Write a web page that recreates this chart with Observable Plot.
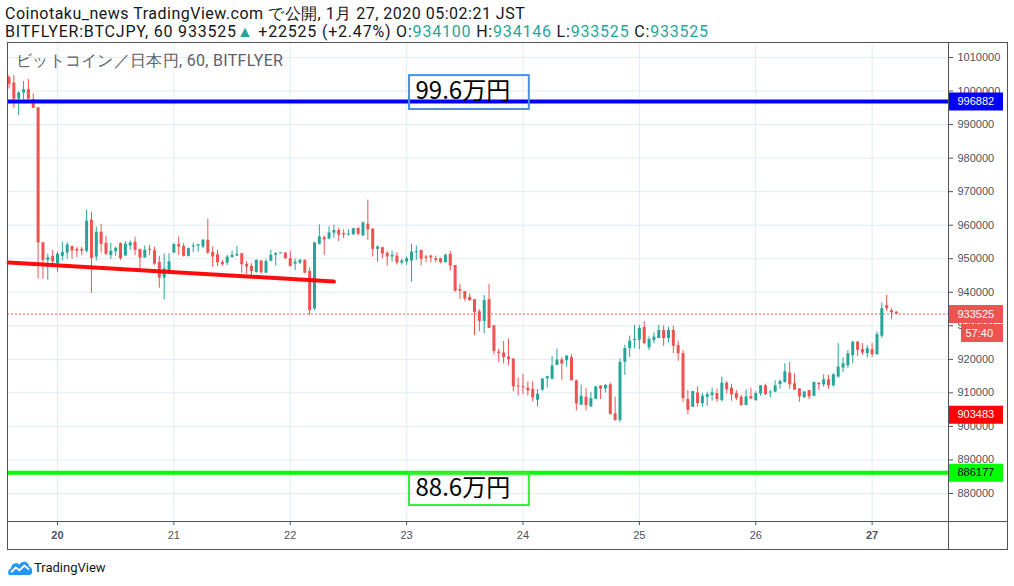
<!DOCTYPE html>
<html>
<head>
<meta charset="utf-8">
<script src="https://cdn.jsdelivr.net/npm/d3@7"></script>
<script src="https://cdn.jsdelivr.net/npm/@observablehq/plot@0.6"></script>
<style>
  html, body { margin: 0; padding: 0; background: #fff; }
  body { width: 1014px; height: 586px; overflow: hidden; position: relative; font-family: Roboto, "Liberation Sans", sans-serif; }
  .hdr { position: absolute; left: 5px; font-size: 16px; color: #131722; white-space: nowrap; line-height: 18px; }
  #h1 { letter-spacing: 0.5px; }
  #h2 { letter-spacing: 0.8px; }
  .up { color: #26a69a; }
  #legend { position: absolute; left: 16px; top: 52px; font-size: 16px; color: #5d606b; white-space: nowrap; line-height: 18px; letter-spacing: 0.3px; }
  #chart { position: absolute; left: 0; top: 42px; }
  .fr { position: absolute; background: #50535e; }
  #logo { position: absolute; left: 8px; top: 558px; height: 18px; display: flex; align-items: center; font-family: Roboto, "Liberation Sans", sans-serif; font-size: 13px; color: #131722; }
</style>
</head>
<body>
<div class="hdr" id="h1" style="top:5px"></div>
<div class="hdr" id="h2" style="top:23px"></div>
<div id="chart"></div>
<div class="fr" style="left:7px;top:42px;width:1001px;height:1px"></div>
<div class="fr" style="left:7px;top:549px;width:1001px;height:1px"></div>
<div class="fr" style="left:7px;top:42px;width:1px;height:508px"></div>
<div class="fr" style="left:1007px;top:42px;width:1px;height:508px"></div>
<div class="fr" style="left:948px;top:42px;width:1px;height:508px"></div>
<div class="fr" style="left:7px;top:521px;width:1001px;height:1px"></div>
<div id="legend">ビットコイン／日本円, 60, BITFLYER</div>
<div id="logo">
  <svg width="25" height="17" viewBox="0 0 26 18" style="margin-right:1px">
    <path d="M2 17 C-1 17 -1 11 3 10 C3 5 9 3 12 6 C14 1 22 2 22 8 C26 8 27 17 22 17 Z" fill="#2196f3"/>
    <path d="M3 14 L8 9 L12 12 L17 7 L22 11" fill="none" stroke="#fff" stroke-width="2"/>
  </svg>
  <span>TradingView</span>
</div>
<script>
// ---------- data ----------
// hourly candles, first one = 2020-01-19 14:00 JST (hour -10 relative to 01-20 00:00)
const startHour = -10;
const opens = [
1004000,1002400,997600,999400,1000400,997400,995000,954700,949500,950700,
948500,950700,951700,953700,952800,952800,952200,961500,950500,957900,954600,950900,952100,954500,950800,953800,954900,952800,950200,952800,952400,948900,944200,945700,
951700,954200,953700,950700,953500,953800,953500,955500,951900,951200,948900,948700,950300,950800,951500,948300,947700,945900,949300,945700,949300,951000,951500,951700,
950000,948400,948700,949500,946200,935000,954300,956300,955900,957600,958400,957500,957100,957100,959000,956800,960300,958800,952800,953300,951600,950500,950800,948700,
949000,949300,951800,952500,950500,950800,950000,950000,948800,951300,948000,940800,940200,938500,937800,934200,931300,937800,930000,922200,921900,920700,920100,912000,
911800,911400,911000,907800,910800,914200,914100,918200,919800,919600,920500,913600,906300,908700,905800,908100,912000,911200,912400,903800,901800,919100,923200,925700,
925700,929500,923400,925600,926200,928600,926200,928600,924100,921700,908000,905700,910000,906800,908700,909200,909800,907700,912900,911400,909800,908700,906200,908900,
907700,909700,912100,910000,910200,912500,913100,915900,912700,911200,908500,910700,909000,912900,912400,913900,912100,914700,917400,918100,921100,925100,922900,921700,
922900,921400,926900,936000,934500,934100];
const highs = [
1004600,1004600,999800,1002800,1003400,999200,995000,954900,951300,952500,
952000,954900,954800,953700,953400,953400,964500,963900,959400,960300,956700,954600,953500,954700,955100,955300,956400,952800,953800,954000,953400,950700,951400,951500,
954500,956500,954500,953200,954700,954200,955700,961800,953500,952500,949500,951000,952300,953700,951500,949200,948500,949700,949500,949700,952500,951900,951700,951700,
952200,949900,949900,949700,947300,954900,960100,956800,959500,960000,959100,958600,958600,959000,959300,961000,967500,959000,953800,953300,952100,952300,951800,949800,
950500,954300,953800,952500,951000,951000,950800,950200,951400,952200,948000,942300,940200,939500,937800,934800,939000,942300,930000,923000,925300,926100,920100,914500,
915500,913200,913300,911000,914300,915000,920800,923100,920500,921000,921400,913800,912300,911300,910200,911800,912200,912500,912900,908700,920100,924200,926900,930100,
930100,931200,926700,927900,930100,929900,929600,929900,925400,922600,910700,910400,911800,909800,910200,911400,911100,914700,913300,912600,910700,909300,910900,911400,
910300,912100,912600,910700,913600,913900,918700,919100,915700,911200,910300,910700,913300,912900,915400,915200,915700,924700,920400,922600,925400,925400,924700,924100,
924700,928200,936800,939100,935100,934146];
const lows = [
1000600,994800,992700,997400,996400,994800,943900,943900,943600,948100,
946000,949300,949900,949900,950300,950900,951700,939700,949300,951700,951000,949800,950700,949500,950800,952500,950900,946700,950200,950900,948000,941200,937700,945300,
951500,951000,950500,950500,951800,952000,953000,951300,947500,947700,947800,948000,950300,950700,945700,945300,945000,945700,945300,945500,949000,947800,951500,949900,
947500,946500,948300,945500,933000,934500,954100,951000,955600,956100,955100,956000,956800,957100,956800,956700,955500,950500,949000,950000,947800,949000,948100,948100,
948000,943000,949500,947800,948800,948800,948800,948500,948800,946300,940000,937800,937300,937300,927100,928200,927600,929200,921300,919000,918600,918000,910300,909100,
909600,909100,907300,905800,910500,911500,913800,918100,913800,917600,913600,904600,906300,904600,905600,908000,908000,910000,903500,901500,901200,915200,920600,923200,
922900,924400,922600,924600,926200,923900,924900,921700,919400,907200,903500,905700,905800,905700,906000,907500,907200,907300,909600,907500,907700,906000,906200,908000,
907500,909000,909200,908500,910000,911100,912900,911100,910800,907200,908500,908000,908800,910800,911700,911100,911700,914400,916100,917300,918600,920900,921200,920400,
920600,921200,926200,934300,931800,933525];
const closes = [
1002000,997600,999400,1000400,997600,994800,954700,949500,950300,949100,
951400,951900,954100,952300,952300,952300,961200,950100,957900,954300,951300,952200,953100,950000,954300,954700,952500,950200,952500,952500,948400,944200,947000,949100,
954200,953500,950700,953000,953800,954200,955500,951700,950500,948800,948200,950500,951000,951300,948200,947500,946200,949500,945900,949200,951000,951500,951700,950000,
947700,949000,949500,945700,934500,954700,956500,955600,957700,958400,957000,957100,957300,959000,957300,960700,958600,952800,953500,951400,950500,951000,948700,949300,
950000,952000,952000,949800,950100,950200,949500,948800,951000,947800,940300,940300,938000,937500,934000,931300,937500,929200,922300,921700,920500,919900,911800,911800,
911600,910600,908500,909600,914100,914800,918000,919800,918600,921000,913600,906700,909000,906200,908300,911800,911100,912200,903500,901800,919100,923200,925400,925900,
929200,924700,925900,926600,928600,926200,928600,923900,921700,908300,904800,910400,906800,909000,909500,910000,908000,912900,910900,909400,908300,906200,908800,908200,
909800,912100,909500,910200,912100,913400,916300,912400,910800,908800,910300,908800,913100,912400,913900,912100,915400,917700,918700,921600,925100,922700,921900,923200,
921400,927400,935100,935100,933900,933525];

// axis ticks
const dayTicks = [0, 24, 48, 72, 96, 120, 144, 168];          // hours from 01-20 00:00
const dayLabels = ["20", "21", "22", "23", "24", "25", "26", "27"];
const boldDays = ["20", "27"];
const priceTicks = [880000, 890000, 900000, 910000, 920000, 930000, 940000, 950000, 960000, 970000, 980000, 990000, 1000000, 1010000];

// drawn levels / lines
const resistance = 996882;
const support = 886177;
const lastPrice = 933525;
const lowMark = 903483;
const countdown = "57:40";
const trendHours = [-10.1, 57];
const trendPrices = [948900, 943200];
const noteLabels = ["99.6万円", "88.6万円"];
const noteHours = [[72.6, 97.3], [72.6, 97.3]];
const notePrices = [[994500, 1004600], [876400, 886000]];
const noteColors = ["#4a90e2", "#33ee33"];

// header values
const prevClose = 911000;

// ---------- header ----------
const last = closes.length - 1;
const change = closes[last] - prevClose;
document.getElementById("h1").textContent = "Coinotaku_news TradingView.com で公開, 1月 27, 2020 05:02:21 JST";
document.getElementById("h2").innerHTML =
  `BITFLYER:BTCJPY, 60 ${closes[last]}<span class="up">▲</span> +${change} (+${(change / prevClose * 100).toFixed(2)}%) ` +
  `O:<span class="up">${opens[last]}</span> H:<span class="up">${highs[last]}</span> L:<span class="up">${lows[last]}</span> C:<span class="up">${closes[last]}</span>`;

// ---------- chart ----------
const UP = "#26a69a", DOWN = "#ef5350";
const candles = opens.map((o, k) => ({ i: startHour + k, o, h: highs[k], l: lows[k], c: closes[k] }));
const trend = trendHours.map((h, k) => ({ h, p: trendPrices[k] }));
const notes = noteLabels.map((t, k) => ({ t, x1: noteHours[k][0], x2: noteHours[k][1], y1: notePrices[k][0], y2: notePrices[k][1], col: noteColors[k] }));
const tags = [
  { v: resistance, bg: "#0000ff", fg: "#ffffff" },
  { v: lastPrice, bg: "#ef5350", fg: "#ffffff" },
  { v: lowMark, bg: "#ff0000", fg: "#ffffff" },
  { v: support, bg: "#00ff00", fg: "#000000" }
];

const xDomain = [-10.31, 183.75];
const hourPx = (948 - 7) / (xDomain[1] - xDomain[0]);
const tagW = 55 / hourPx;              // tag width in hour units
const yen1px = 298;                      // minimal body height
const bodyLo = d => Math.abs(d.o - d.c) < yen1px ? (d.o + d.c) / 2 - yen1px / 2 : Math.min(d.o, d.c);
const bodyHi = d => Math.abs(d.o - d.c) < yen1px ? (d.o + d.c) / 2 + yen1px / 2 : Math.max(d.o, d.c);
const col = d => d.c >= d.o ? UP : DOWN;

const chart = Plot.plot({
  width: 1014,
  height: 508,
  marginLeft: 7,
  marginRight: 66,
  marginTop: 1,
  marginBottom: 29,
  style: { fontFamily: "'Liberation Sans', Arial, sans-serif", fontSize: "11px", color: "#4c525e", background: "transparent", overflow: "visible" },
  x: { type: "linear", domain: xDomain },
  y: { type: "linear", domain: [871649, 1014174] },
  marks: [
    Plot.gridY(priceTicks, { stroke: "#e1ecf2", strokeOpacity: 1 }),
    Plot.gridX(dayTicks, { stroke: "#e1ecf2", strokeOpacity: 1 }),
    Plot.ruleY([lastPrice], { stroke: "#ef5350", strokeWidth: 1, strokeDasharray: "2,2" }),
    Plot.ruleX(candles, { x: "i", y1: "l", y2: "h", stroke: col, strokeWidth: 1 }),
    Plot.ruleX(candles, { x: "i", y1: bodyLo, y2: bodyHi, stroke: col, strokeWidth: 3 }),
    Plot.ruleY([resistance], { stroke: "#0000ff", strokeWidth: 4 }),
    Plot.ruleY([support], { stroke: "#00ff00", strokeWidth: 4 }),
    Plot.line(trend, { x: "h", y: "p", stroke: "#ff0000", strokeWidth: 4, strokeOpacity: 0.95 }),
    Plot.rect(notes, { x1: "x1", x2: "x2", y1: "y1", y2: "y2", fill: "none", stroke: "col", strokeWidth: 2 }),
    Plot.text(notes, { x: "x1", y: d => (d.y1 + d.y2) / 2, text: "t", textAnchor: "start", dx: 6, dy: -1, fontSize: 24, fill: "#000", fontFamily: "'Noto Sans CJK JP', sans-serif" }),
    Plot.axisY(priceTicks, { anchor: "right", tickSize: 4, tickPadding: 5, tickFormat: d => String(d), label: null, fontSize: 11 }),
    Plot.axisX(dayTicks, { anchor: "bottom", tickSize: 4, tickPadding: 6, tickFormat: (d, k) => dayLabels[dayTicks.indexOf(d)], label: null, fontSize: 11 }),
    // price tags on the axis
    Plot.ruleY(tags, { y: "v", x1: xDomain[1], x2: xDomain[1] + tagW, stroke: "bg", strokeWidth: 18 }),
    Plot.text(tags, { y: "v", x: xDomain[1], dx: 9, text: d => String(d.v), fill: "fg", textAnchor: "start", fontSize: 11 }),
    Plot.ruleY([lastPrice], { x1: xDomain[1] + 13 / hourPx, x2: xDomain[1] + tagW, stroke: "#ef5350", strokeWidth: 18, dy: 19 }),
    Plot.text([lastPrice], { y: d => d, x: xDomain[1], dx: 17, dy: 19, text: () => countdown, fill: "#fff", textAnchor: "start", fontSize: 11 })
  ]
});

d3.select(chart).selectAll("text").filter(function () {
  const p = this.parentNode && this.parentNode.getAttribute("aria-label");
  return p === "x-axis tick label" && boldDays.includes(this.textContent);
}).attr("font-weight", "bold");

document.getElementById("chart").appendChild(chart);
</script>
</body>
</html>
